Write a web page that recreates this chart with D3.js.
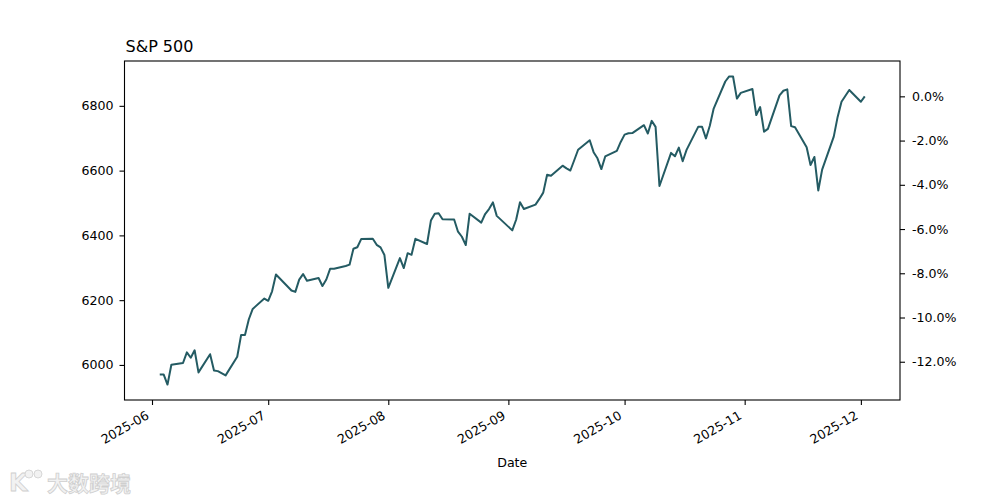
<!DOCTYPE html>
<html>
<head>
<meta charset="utf-8">
<script src="https://cdn.jsdelivr.net/npm/d3@7"></script>
<style>
  html, body { margin: 0; padding: 0; background: #fff; }
  svg { display: block; font-family: "DejaVu Sans", sans-serif; }
</style>
</head>
<body>
<svg id="chart" width="1000" height="500"></svg>
<script>
const title = "S&P 500";
const xLabel = "Date";
const dates = [
  "2025-06-03","2025-06-04","2025-06-05","2025-06-06","2025-06-09","2025-06-10","2025-06-11","2025-06-12","2025-06-13",
  "2025-06-16","2025-06-17","2025-06-18","2025-06-20","2025-06-23","2025-06-24","2025-06-25","2025-06-26","2025-06-27","2025-06-30",
  "2025-07-01","2025-07-02","2025-07-03","2025-07-07","2025-07-08","2025-07-09","2025-07-10","2025-07-11","2025-07-14","2025-07-15",
  "2025-07-16","2025-07-17","2025-07-18","2025-07-21","2025-07-22","2025-07-23","2025-07-24","2025-07-25","2025-07-28","2025-07-29",
  "2025-07-30","2025-07-31",
  "2025-08-01","2025-08-04","2025-08-05","2025-08-06","2025-08-07","2025-08-08","2025-08-11","2025-08-12","2025-08-13","2025-08-14",
  "2025-08-15","2025-08-18","2025-08-19","2025-08-20","2025-08-21","2025-08-22","2025-08-25","2025-08-26","2025-08-27","2025-08-28","2025-08-29",
  "2025-09-02","2025-09-03","2025-09-04","2025-09-05","2025-09-08","2025-09-09","2025-09-10","2025-09-11","2025-09-12","2025-09-15",
  "2025-09-16","2025-09-17","2025-09-18","2025-09-19","2025-09-22","2025-09-23","2025-09-24","2025-09-25","2025-09-26","2025-09-29","2025-09-30",
  "2025-10-01","2025-10-02","2025-10-03","2025-10-06","2025-10-07","2025-10-08","2025-10-09","2025-10-10","2025-10-13","2025-10-14",
  "2025-10-15","2025-10-16","2025-10-17","2025-10-20","2025-10-21","2025-10-22","2025-10-23","2025-10-24","2025-10-27","2025-10-28",
  "2025-10-29","2025-10-30","2025-10-31",
  "2025-11-03","2025-11-04","2025-11-05","2025-11-06","2025-11-07","2025-11-10","2025-11-11","2025-11-12","2025-11-13","2025-11-14",
  "2025-11-17","2025-11-18","2025-11-19","2025-11-20","2025-11-21","2025-11-24","2025-11-25","2025-11-26","2025-11-28",
  "2025-12-01","2025-12-02"
];
const closes = [
  5970.37,5970.81,5939.30,6000.36,6005.88,6038.81,6022.24,6045.26,5976.97,
  6033.11,5982.72,5980.87,5967.84,6025.17,6092.18,6092.16,6141.02,6173.07,6204.95,
  6198.01,6227.42,6279.35,6229.98,6225.52,6263.26,6280.46,6259.75,6268.56,6243.76,
  6263.70,6297.36,6296.79,6305.60,6309.62,6358.91,6363.35,6388.64,6389.77,6370.86,
  6362.90,6339.39,
  6238.01,6329.94,6299.19,6345.06,6340.00,6389.45,6373.45,6445.76,6466.58,6468.54,
  6449.80,6449.15,6411.37,6395.78,6370.17,6466.91,6439.32,6465.94,6481.40,6501.86,6460.26,
  6415.54,6448.26,6502.08,6481.50,6495.15,6512.61,6532.04,6587.47,6584.29,6615.28,
  6606.76,6600.35,6631.96,6664.36,6693.75,6656.92,6637.97,6604.72,6643.70,6661.21,6688.46,
  6711.20,6715.35,6715.79,6740.28,6714.59,6753.72,6735.11,6552.51,6654.72,6644.31,
  6671.06,6629.07,6664.01,6735.13,6735.35,6699.40,6738.44,6791.69,6875.16,6890.89,
  6890.59,6822.34,6840.20,
  6851.97,6771.55,6796.29,6720.32,6728.80,6832.43,6846.61,6850.92,6737.49,6734.11,
  6672.41,6617.32,6642.16,6538.76,6602.99,6705.12,6765.88,6812.61,6849.09,
  6812.63,6829.37
];
const leftTicks = [6000, 6200, 6400, 6600, 6800];
const rightTicks = [-12, -10, -8, -6, -4, -2, 0];
const xTickLabels = ["2025-06","2025-07","2025-08","2025-09","2025-10","2025-11","2025-12"];

const parse = d3.timeParse("%Y-%m-%d");
const data = dates.map((d, i) => ({ date: parse(d), value: closes[i] }));

const svg = d3.select("#chart");
const L = 124.5, R = 900, T = 61, B = 400;
const color = "#245b63";
const fs = 12.6;

// matplotlib-like 5% margins
const xExt = d3.extent(data, d => d.date);
const xSpan = xExt[1] - xExt[0];
const x = d3.scaleTime()
  .domain([new Date(+xExt[0] - 0.05 * xSpan), new Date(+xExt[1] + 0.05 * xSpan)])
  .range([L, R]);
const yExt = d3.extent(data, d => d.value);
const ySpan = yExt[1] - yExt[0];
const y = d3.scaleLinear()
  .domain([yExt[0] - 0.05 * ySpan, yExt[1] + 0.05 * ySpan])
  .range([B, T]);

const last = closes[closes.length - 1];
const yPct = d3.scaleLinear()
  .domain(y.domain().map(v => (v / last - 1) * 100))
  .range([B, T]);

// line
const line = d3.line().x(d => x(d.date)).y(d => y(d.value));
svg.append("path")
  .datum(data)
  .attr("fill", "none")
  .attr("stroke", color)
  .attr("stroke-width", 2)
  .attr("stroke-linejoin", "round")
  .attr("d", line);

// frame
svg.append("rect")
  .attr("x", L).attr("y", T).attr("width", R - L).attr("height", B - T)
  .attr("fill", "none").attr("stroke", "#000").attr("stroke-width", 1.1);

// left axis
const gl = svg.append("g").attr("transform", `translate(${L},0)`)
  .call(d3.axisLeft(y).tickValues(leftTicks).tickSize(5).tickPadding(6).tickFormat(d3.format("d")));
gl.select(".domain").remove();
gl.selectAll("line").attr("stroke", "#000").attr("stroke-width", 1.1);
gl.selectAll("text").attr("font-size", fs).attr("font-family", "DejaVu Sans").attr("fill", "#000");

// right axis (percent relative to last close)
const gr = svg.append("g").attr("transform", `translate(${R},0)`)
  .call(d3.axisRight(yPct).tickValues(rightTicks).tickSize(5).tickPadding(7).tickFormat(d => d.toFixed(1) + "%"));
gr.select(".domain").remove();
gr.selectAll("line").attr("stroke", "#000").attr("stroke-width", 1.1);
gr.selectAll("text").attr("font-size", fs).attr("font-family", "DejaVu Sans").attr("fill", "#000");

// bottom axis
const xTicks = xTickLabels.map(s => parse(s + "-01"));
const gb = svg.append("g").attr("transform", `translate(0,${B})`)
  .call(d3.axisBottom(x).tickValues(xTicks).tickSize(5).tickFormat(d3.timeFormat("%Y-%m")));
gb.select(".domain").remove();
gb.selectAll("line").attr("stroke", "#000").attr("stroke-width", 1.1);
gb.selectAll("text")
  .attr("font-size", fs).attr("font-family", "DejaVu Sans").attr("fill", "#000")
  .attr("text-anchor", "end")
  .attr("dy", null)
  .attr("y", 0)
  .attr("x", 0)
  .attr("transform", "translate(-2.5,18) rotate(-30)");

// title
svg.append("text")
  .attr("x", L + 1).attr("y", 51.5)
  .attr("font-size", 16).attr("font-family", "DejaVu Sans")
  .text(title);

// x label
svg.append("text")
  .attr("x", (L + R) / 2).attr("y", 467)
  .attr("text-anchor", "middle")
  .attr("font-size", fs).attr("font-family", "DejaVu Sans")
  .text(xLabel);

// watermark
const wm = svg.append("g").attr("fill", "#f2f2f2").attr("stroke", "#cfcfcf").attr("stroke-width", 0.8);
wm.append("text")
  .attr("x", 9).attr("y", 491)
  .attr("font-size", 24).attr("font-weight", "bold")
  .attr("font-family", "DejaVu Sans")
  .text("K");
wm.append("circle").attr("cx", 29).attr("cy", 474).attr("r", 4);
wm.append("circle").attr("cx", 38).attr("cy", 474).attr("r", 4);
wm.append("text")
  .attr("x", 47).attr("y", 491)
  .attr("font-size", 21).attr("font-weight", "bold")
  .attr("font-family", "Noto Sans CJK SC")
  .text("大数跨境");
</script>
</body>
</html>
